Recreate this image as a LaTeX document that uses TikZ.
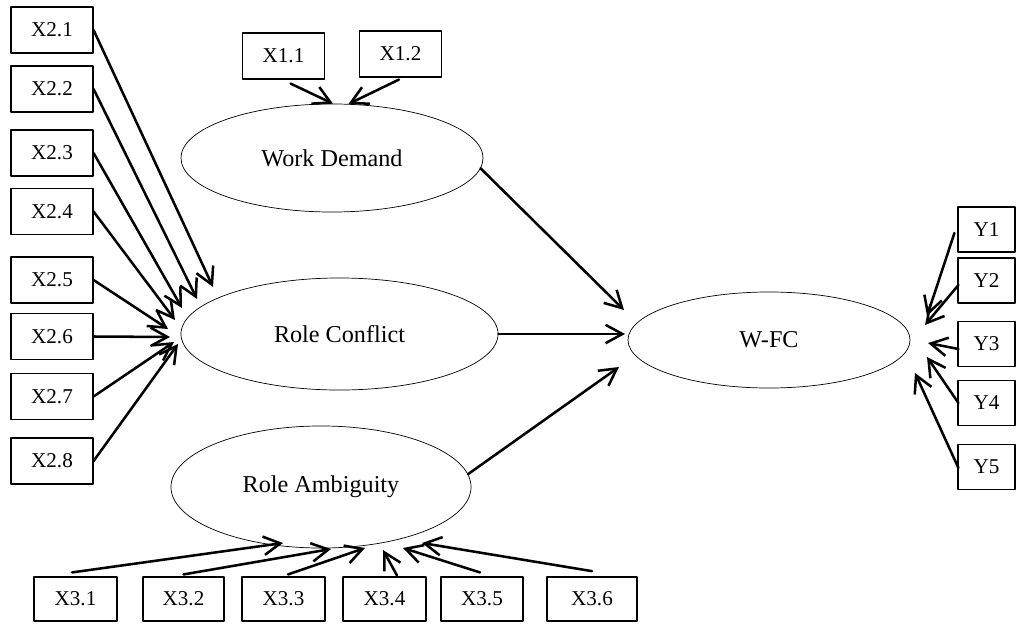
\documentclass[tikz,border=0pt]{standalone}
\usepackage{fontspec}
\setmainfont{Liberation Serif}
\usetikzlibrary{shapes.geometric,arrows.meta}

\newcommand\boxfont{\fontsize{15}{17}\selectfont}
\newcommand\latfont{\fontsize{17.2}{19}\selectfont}

\tikzset{
  indicator/.style={draw, line width=0.8pt, minimum width=2.05cm, minimum height=1.15cm, inner sep=0pt, font=\boxfont},
  latent/.style={draw, ellipse, line width=0.5pt, inner sep=0pt, font=\latfont},
  load/.style={-{Straight Barb[length=4.2mm,width=4.6mm]}, line width=1.8pt}
}

\begin{document}
\begin{tikzpicture}[
  x=0.025cm, y=-0.025cm,  % one unit = one pixel of the layout, y downwards
  every path/.style={line cap=round, line join=round}
]
\useasboundingbox (0,0) rectangle (1016,623);

% ---------------- Latent variables ----------------
\node[latent, minimum width=7.55cm, minimum height=2.7cm] (wd) at (332,158) {Work Demand};
\node[latent, minimum width=7.925cm, minimum height=2.8cm] (rc) at (339.5,334) {Role Conflict};
\node[latent, minimum width=7.5cm, minimum height=3.05cm] (ra) at (321,487) {Role Ambiguity};
\node[latent, minimum width=7.05cm, minimum height=2.4cm] (wfc) at (769,340) {W-FC};

% ---------------- Work Demand indicators ----------------
\node[indicator] (x11) at (283.5,56) {X1.1};
\node[indicator] (x12) at (400.5,54) {X1.2};
\draw[load] ([shift={(7,4)}]x11.south) -- (wd.89);
\draw[load] ([shift={(-1.5,2)}]x12.south) -- (wd.73);

% ---------------- Role Conflict indicators ----------------
\foreach \i/\yy/\tx/\ty in {1/30/213/287, 2/89/197/299, 3/153/182/308, 4/211.5/175/320,
                            5/280/168/329, 6/336.5/170/337, 7/396.5/174/342, 8/461/178/344} {
  \node[indicator] (x2\i) at (52,\yy) {X2.\i};
  \coordinate (t2\i) at (\tx,\ty);
  \draw[load] (x2\i.east) -- (t2\i);
}

% ---------------- Role Ambiguity indicators ----------------
\foreach \i/\xx/\bw/\dx/\dy/\tx/\ty in {1/75.5/2.075/-3.5/-4/283/543, 2/183.5/2.025/0/-2/331/549,
                                        3/283.5/2.075/4.5/-2/365/548, 4/384.5/2.075/12.5/-1/383/550,
                                        5/482/2.05/-2/-4/403/548} {
  \node[indicator, minimum width=\bw cm, minimum height=1.1cm] (x3\i) at (\xx,599) {X3.\i};
  \coordinate (t3\i) at (\tx,\ty);
  \draw[load] ([shift={(\dx,\dy)}]x3\i.north) -- (t3\i);
}
\node[indicator, line width=1.2pt, minimum width=2.25cm, minimum height=1.1cm] (x36) at (592,599) {X3.6};
\coordinate (t36) at (422,543);
\draw[load] ([shift={(0,-5)}]x36.north) -- (t36);

% ---------------- W-FC indicators ----------------
\foreach \i/\yy/\dx/\dy/\tx/\ty in {1/229.5/-3/3.5/927/316, 2/280.5/1/4.5/925/325, 3/344/1/5/928/343,
                                    4/403/1/0/927/357, 5/467/1/1/915/373} {
  \node[indicator, minimum width=1.425cm, minimum height=1.125cm] (y\i) at (986.5,\yy) {Y\i};
  \coordinate (ty\i) at (\tx,\ty);
  \draw[load] ([shift={(\dx,\dy)}]y\i.west) -- (ty\i);
}

% ---------------- Structural paths ----------------
\coordinate (twd) at (624,310);
\coordinate (trc) at (625,334);
\coordinate (tra) at (619,367);
\draw[load] (wd.-4) -- (twd);
\draw[load] (rc.east) -- (trc);
\draw[load] (ra.5) -- (tra);

\end{tikzpicture}
\end{document}
